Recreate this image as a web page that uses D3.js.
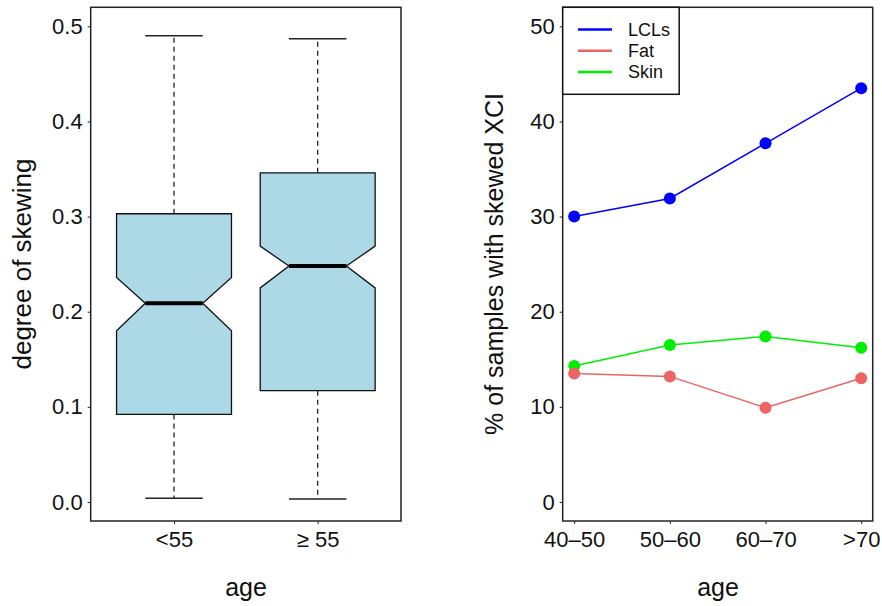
<!DOCTYPE html>
<html>
<head>
<meta charset="utf-8">
<script src="https://cdn.jsdelivr.net/npm/d3@7"></script>
<style>
  body { margin: 0; background: #fff; }
  text { font-family: "Liberation Sans", Arial, Helvetica, sans-serif; fill: #111; }
</style>
</head>
<body>
<div class="chart"></div>
<script>
// left panel: notched boxplot of degree of skewing by age
var groups = ['<55', '\u2265 55']
var whiskLow = [0.004, 0.003]
var q1 = [0.092, 0.117]
var medians = [0.209, 0.248]
var q3 = [0.303, 0.346]
var whiskHigh = [0.490, 0.487]
var notchLow = [0.180, 0.225]
var notchHigh = [0.236, 0.269]
var leftTicks = [0, 0.1, 0.2, 0.3, 0.4, 0.5]

// right panel: % of samples with skewed XCI
var ageBins = ['40\u201350', '50\u201360', '60\u201370', '>70']
var lcls = [30.0, 31.9, 37.7, 43.5]
var fat = [13.5, 13.2, 9.9, 13.0]
var skin = [14.3, 16.5, 17.4, 16.2]
var seriesNames = ['LCLs', 'Fat', 'Skin']
var seriesColors = ['#0000ff', '#ee6464', '#00ee00']
var rightTicks = [0, 10, 20, 30, 40, 50]

var svg = d3.select('.chart')
  .append('svg')
    .attr('width', 882)
    .attr('height', 606)

function frame (g, x0, x1, y0, y1) {
  g.append('rect')
    .attr('x', x0).attr('y', y0)
    .attr('width', x1 - x0).attr('height', y1 - y0)
    .style('fill', 'none')
    .style('stroke', '#222')
    .style('stroke-width', 1.5)
}

function styleAxis (g, size) {
  g.select('.domain').remove()
  g.selectAll('line').style('stroke', '#222')
  g.selectAll('text')
    .style('font-size', size + 'px')
    .style('font-family', '"Liberation Sans", Arial, sans-serif')
    .style('fill', '#111')
}

// ---------- left ----------
var L = { x0: 90.7, x1: 401, y0: 7.3, y1: 521 }
var xL = d3.scaleLinear().domain([0.42, 2.58]).range([L.x0, L.x1])
var yL = d3.scaleLinear().domain([-0.02, 0.52]).range([L.y1, L.y0])

var left = svg.append('g')

var boxes = left.selectAll('g.box')
  .data(groups)
  .enter()
    .append('g')
    .attr('class', 'box')

// dashed whiskers
boxes.append('line')
  .attr('x1', (d, i) => xL(i + 1)).attr('x2', (d, i) => xL(i + 1))
  .attr('y1', (d, i) => yL(q3[i])).attr('y2', (d, i) => yL(whiskHigh[i]))
  .style('stroke', '#222').style('stroke-dasharray', '5,4').style('stroke-width', 1.3)
boxes.append('line')
  .attr('x1', (d, i) => xL(i + 1)).attr('x2', (d, i) => xL(i + 1))
  .attr('y1', (d, i) => yL(q1[i])).attr('y2', (d, i) => yL(whiskLow[i]))
  .style('stroke', '#222').style('stroke-dasharray', '5,4').style('stroke-width', 1.3)

// staples
;[whiskHigh, whiskLow].forEach(function (arr) {
  boxes.append('line')
    .attr('x1', (d, i) => xL(i + 1 - 0.2)).attr('x2', (d, i) => xL(i + 1 + 0.2))
    .attr('y1', (d, i) => yL(arr[i])).attr('y2', (d, i) => yL(arr[i]))
    .style('stroke', '#222').style('stroke-width', 1.5)
})

// notched box
boxes.append('path')
  .attr('d', function (d, i) {
    var c = i + 1
    var pts = [
      [c - 0.4, q1[i]], [c - 0.4, notchLow[i]], [c - 0.2, medians[i]],
      [c - 0.4, notchHigh[i]], [c - 0.4, q3[i]], [c + 0.4, q3[i]],
      [c + 0.4, notchHigh[i]], [c + 0.2, medians[i]], [c + 0.4, notchLow[i]],
      [c + 0.4, q1[i]]
    ]
    return 'M' + pts.map(p => xL(p[0]) + ',' + yL(p[1])).join('L') + 'Z'
  })
  .style('fill', '#add8e6')
  .style('stroke', '#111')
  .style('stroke-width', 1.3)

boxes.append('line')
  .attr('x1', (d, i) => xL(i + 1 - 0.2)).attr('x2', (d, i) => xL(i + 1 + 0.2))
  .attr('y1', (d, i) => yL(medians[i])).attr('y2', (d, i) => yL(medians[i]))
  .style('stroke', '#000').style('stroke-width', 4)

frame(left, L.x0, L.x1, L.y0, L.y1)

left.append('g')
  .attr('transform', `translate(${L.x0},0)`)
  .call(d3.axisLeft(yL).tickValues(leftTicks).tickFormat(d3.format('.1f')).tickSize(3).tickPadding(5))
  .call(styleAxis, 22)

left.append('g')
  .attr('transform', `translate(0,${L.y1})`)
  .call(d3.axisBottom(xL).tickValues([1, 2]).tickFormat((d, i) => groups[i]).tickSize(3).tickPadding(7))
  .call(styleAxis, 22)

left.append('text')
  .attr('transform', 'translate(31,264) rotate(-90)')
  .attr('text-anchor', 'middle')
  .style('font-size', '26px')
  .text('degree of skewing')

left.append('text')
  .attr('x', 246).attr('y', 596)
  .attr('text-anchor', 'middle')
  .style('font-size', '25px')
  .text('age')

// ---------- right ----------
var R = { x0: 562.7, x1: 872.7, y0: 7.3, y1: 521 }
var xR = d3.scaleLinear().domain([0.88, 4.12]).range([R.x0, R.x1])
var yR = d3.scaleLinear().domain([-2, 52]).range([R.y1, R.y0])

var right = svg.append('g')
var series = [lcls, fat, skin]
var line = d3.line()
  .x((d, i) => xR(i + 1))
  .y(d => yR(d))

// skin first, then fat, then lcls on top
;[2, 1, 0].forEach(function (s) {
  var g = right.append('g')
  g.append('path')
    .datum(series[s])
    .attr('d', line)
    .style('fill', 'none')
    .style('stroke', seriesColors[s])
    .style('stroke-width', 1.5)
  g.selectAll('circle')
    .data(series[s])
    .enter()
      .append('circle')
      .attr('cx', (d, i) => xR(i + 1))
      .attr('cy', d => yR(d))
      .attr('r', 6)
      .style('fill', seriesColors[s])
})

frame(right, R.x0, R.x1, R.y0, R.y1)

right.append('g')
  .attr('transform', `translate(${R.x0},0)`)
  .call(d3.axisLeft(yR).tickValues(rightTicks).tickSize(3).tickPadding(5))
  .call(styleAxis, 22)

right.append('g')
  .attr('transform', `translate(0,${R.y1})`)
  .call(d3.axisBottom(xR).tickValues([1, 2, 3, 4]).tickFormat((d, i) => ageBins[i]).tickSize(3).tickPadding(7))
  .call(styleAxis, 22)

right.append('text')
  .attr('transform', 'translate(503,264) rotate(-90)')
  .attr('text-anchor', 'middle')
  .style('font-size', '25px')
  .text('% of samples with skewed XCI')

right.append('text')
  .attr('x', 718).attr('y', 596)
  .attr('text-anchor', 'middle')
  .style('font-size', '25px')
  .text('age')

// legend
var legend = right.append('g')
legend.append('rect')
  .attr('x', R.x0).attr('y', R.y0)
  .attr('width', 116.5).attr('height', 87)
  .style('fill', '#fff')
  .style('stroke', '#111')
  .style('stroke-width', 1.5)

var items = legend.selectAll('g.item')
  .data(seriesNames)
  .enter()
    .append('g')
    .attr('class', 'item')
    .attr('transform', (d, i) => `translate(0, ${29.5 + i * 21.2})`)

items.append('line')
  .attr('x1', 578).attr('x2', 612)
  .style('stroke', (d, i) => seriesColors[i])
  .style('stroke-width', 2.5)

items.append('text')
  .attr('x', 628).attr('y', 6.5)
  .style('font-size', '18px')
  .text(d => d)
</script>
</body>
</html>
